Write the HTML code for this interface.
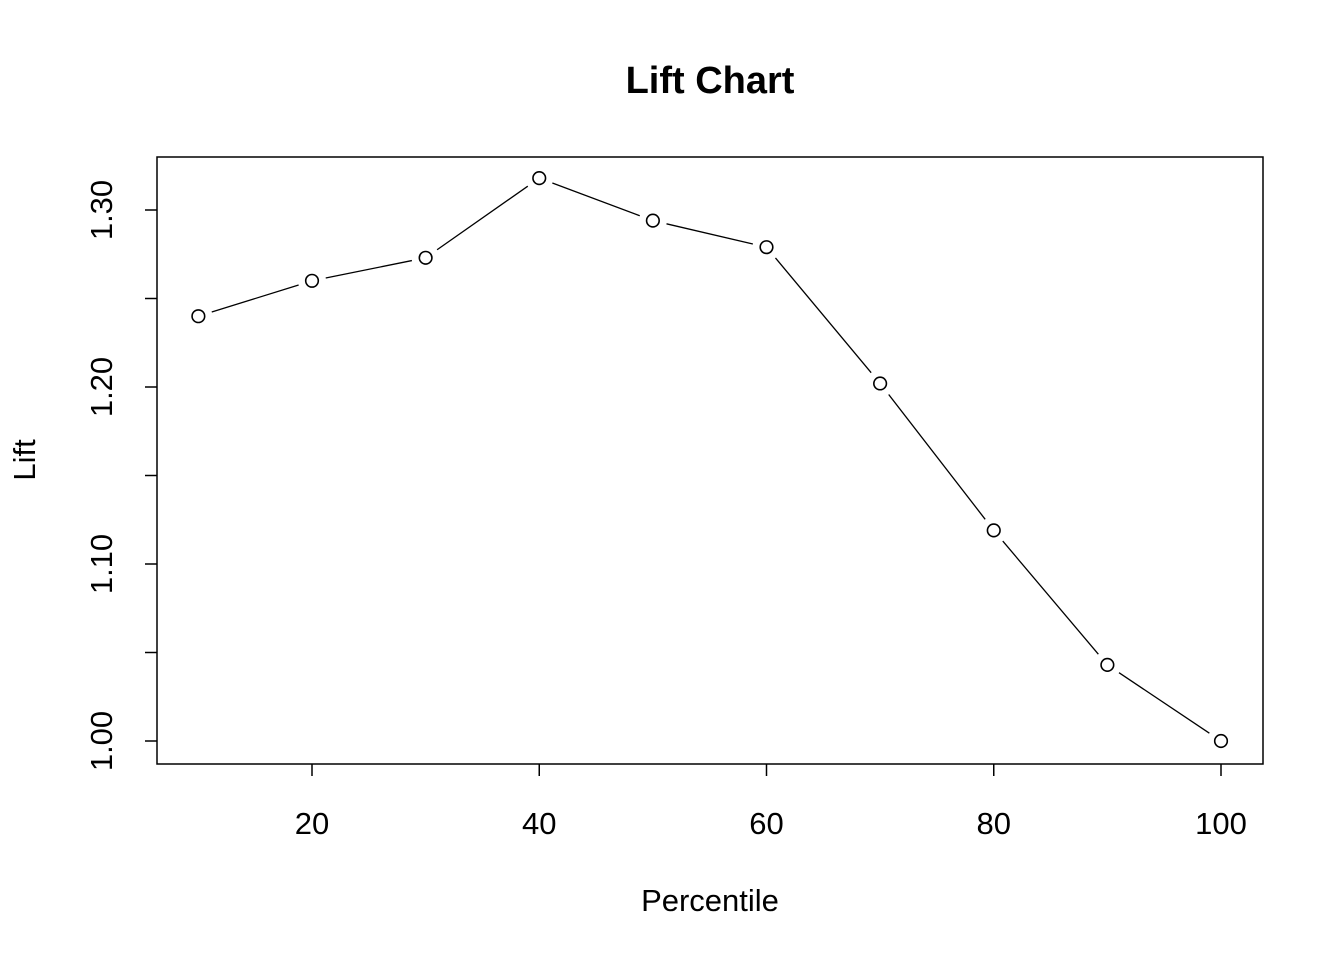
<!DOCTYPE html>
<html><head><meta charset="utf-8"><style>
html,body{margin:0;padding:0;background:#fff;}
svg text{font-family:"Liberation Sans",Arial,sans-serif;fill:#000;}
</style></head><body>
<svg id="chart" width="1344" height="960" viewBox="0 0 1344 960" xmlns="http://www.w3.org/2000/svg">
<rect x="0" y="0" width="1344" height="960" fill="#fff"/>
<text x="710" y="93" font-size="38" font-weight="bold" text-anchor="middle">Lift Chart</text>
<rect x="157" y="157" width="1106" height="607" fill="none" stroke="#000" stroke-width="1.5"/>
<text x="710" y="911" font-size="31" text-anchor="middle">Percentile</text>
<text transform="translate(35,460) rotate(-90)" font-size="31" text-anchor="middle">Lift</text>
<g id="axes"></g>
<g id="series"></g>
</svg>
<script>
const percentiles = [10,20,30,40,50,60,70,80,90,100];
const liftValues = [1.24,1.26,1.273,1.318,1.294,1.279,1.202,1.119,1.043,1.0];
const xTicks = [20,40,60,80,100];
const yTicks = [1.0,1.05,1.1,1.15,1.2,1.25,1.3];
const yTickLabels = ["1.00","","1.10","","1.20","","1.30"];

const xs = v => 312 + (v-20)*(1221-312)/80;
const ys = v => 741 - (v-1.0)*(741-210)/0.3;
const NS = "http://www.w3.org/2000/svg";
const axes = document.getElementById('axes');
const series = document.getElementById('series');
function mk(tag, attrs, parent){const e=document.createElementNS(NS,tag);for(const k in attrs)e.setAttribute(k,attrs[k]);parent.appendChild(e);return e;}

xTicks.forEach(t=>{
  const l=mk('line',{x1:xs(t),x2:xs(t),y1:764,y2:776,stroke:'#000','stroke-width':1.5},axes);
  
  
  const tx=mk('text',{x:xs(t),y:834,'font-size':31,'text-anchor':'middle'},axes);
  tx.textContent=t;
  
  
});
yTicks.forEach((t,i)=>{
  const l=mk('line',{x1:145,x2:157,y1:ys(t),y2:ys(t),stroke:'#000','stroke-width':1.5},axes);
  
  
  if(yTickLabels[i]){
    const tx=mk('text',{transform:`translate(112,${ys(t)}) rotate(-90)`,'font-size':31,'text-anchor':'middle'},axes);
    tx.textContent=yTickLabels[i];
    
    
  }
});
const gap=14;
for(let i=0;i<percentiles.length-1;i++){
  const x1=xs(percentiles[i]),y1=ys(liftValues[i]),x2=xs(percentiles[i+1]),y2=ys(liftValues[i+1]);
  const d=Math.hypot(x2-x1,y2-y1);
  if(d<=2*gap) continue;
  const ux=(x2-x1)/d,uy=(y2-y1)/d;
  const l=mk('line',{x1:x1+ux*gap,y1:y1+uy*gap,x2:x2-ux*gap,y2:y2-uy*gap,stroke:'#000','stroke-width':1.3},series);
  
  
}
percentiles.forEach((p,i)=>{
  const c=mk('circle',{cx:xs(p),cy:ys(liftValues[i]),r:6.3,fill:'none',stroke:'#000','stroke-width':1.6},series);
  
  
});
</script>
</body></html>
